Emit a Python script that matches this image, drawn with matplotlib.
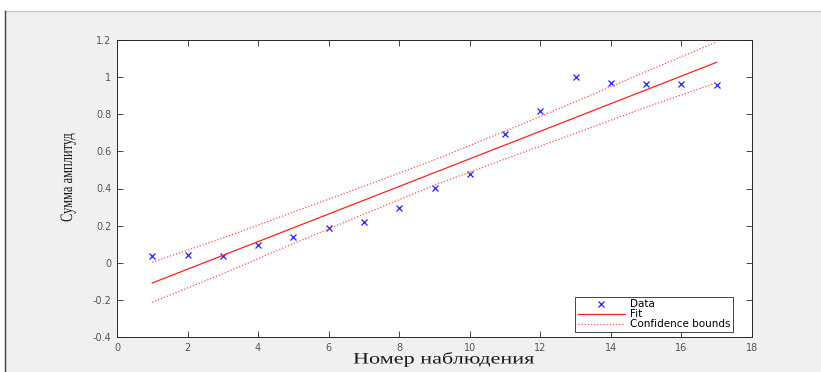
import matplotlib
matplotlib.use("Agg")
import matplotlib.pyplot as plt
from matplotlib.patches import Rectangle
from matplotlib.lines import Line2D
from matplotlib.patheffects import AbstractPathEffect
from matplotlib.transforms import Affine2D

# Data
obs = [1, 2, 3, 4, 5, 6, 7, 8, 9, 10, 11, 12, 13, 14, 15, 16, 17]
amp = [0.036, 0.040, 0.035, 0.095, 0.139, 0.187, 0.219, 0.295, 0.403,
       0.478, 0.694, 0.817, 1.000, 0.970, 0.965, 0.965, 0.955]
fit_x = [1, 17]
fit_y = [-0.109, 1.080]
bound_x = [1, 3, 5, 7, 9, 11, 13, 15, 17]
upper = [0.003, 0.133, 0.273, 0.412, 0.554, 0.709, 0.868, 1.030, 1.190]
lower = [-0.213, -0.059, 0.103, 0.262, 0.418, 0.559, 0.698, 0.838, 0.970]
xticks = [0, 2, 4, 6, 8, 10, 12, 14, 16, 18]
yticks = [-0.4, -0.2, 0, 0.2, 0.4, 0.6, 0.8, 1, 1.2]
yticklabels = ["-0.4", "-0.2", "0", "0.2", "0.4", "0.6", "0.8", "1", "1.2"]


class Stretch(AbstractPathEffect):
    """Scale glyphs along the text direction about the text centre."""
    def __init__(self, sx=1.0):
        super().__init__()
        self.sx = sx

    def draw_path(self, renderer, gc, tpath, affine, rgbFace=None):
        ext = tpath.get_extents()
        cx = (ext.x0 + ext.x1) / 2
        pre = Affine2D().translate(-cx, 0).scale(self.sx, 1.0).translate(cx, 0)
        renderer.draw_path(gc, tpath, pre + affine, rgbFace)


W, H = 821, 372
fig = plt.figure(figsize=(W / 100, H / 100), dpi=100)
fig.patch.set_facecolor("white")
fig.add_artist(Rectangle((5 / W, 0), 1 - 5 / W, 1 - 11 / H, transform=fig.transFigure,
                         facecolor="#f0f0f0", edgecolor="none", zorder=-10))
fig.add_artist(Line2D([5 / W, 1], [1 - 11 / H, 1 - 11 / H], transform=fig.transFigure,
                      color="#c8c8c8", lw=1))
fig.add_artist(Line2D([5 / W, 5 / W], [0, 1 - 11 / H], transform=fig.transFigure,
                      color="#404040", lw=1))

ax = fig.add_axes([117 / W, 1 - 337 / H, (752 - 117) / W, (337 - 40) / H])
ax.set_facecolor("white")

ax.plot(obs, amp, linestyle="none", marker="x", color="#2020ff", markersize=5,
        markeredgewidth=0.9, label="Data")
ax.plot(fit_x, fit_y, color="#ff2020", lw=0.9, label="Fit")
ax.plot(bound_x, upper, color="#ff5050", lw=0.9, linestyle=(0, (1, 1.5)),
        label="Confidence bounds")
ax.plot(bound_x, lower, color="#ff5050", lw=0.9, linestyle=(0, (1, 1.5)))

ax.set_xlim(0, 18)
ax.set_ylim(-0.4, 1.2)
ax.set_xticks(xticks)
ax.set_xticklabels([str(t) for t in xticks])
ax.set_yticks(yticks)
ax.set_yticklabels(yticklabels)
ax.tick_params(direction="in", top=True, right=True, length=4, width=0.6,
               labelsize=7, labelcolor="#555555", color="#262626", pad=4)
for s in ax.spines.values():
    s.set_color("#262626")
    s.set_linewidth(0.7)

xl = ax.set_xlabel("Номер наблюдения", family="Liberation Serif", fontsize=11.5,
                   color="#1a1a1a")
xl.set_path_effects([Stretch(1.39)])
ax.xaxis.set_label_coords((443.5 - 117) / 635, (337 - 351) / 297)

yl = ax.set_ylabel("Сумма амплитуд", family="Liberation Serif", fontsize=12.5,
                   color="#1a1a1a")
yl.set_path_effects([Stretch(0.72)])
ax.yaxis.set_label_coords((76 - 117) / 635, (337 - 177.5) / 297)

leg = ax.legend(loc="lower right", bbox_to_anchor=((733 - 117) / 635, (337 - 332) / 297),
                borderaxespad=0, fontsize=7.5, frameon=True, fancybox=False,
                framealpha=1, edgecolor="#262626", borderpad=0.25, labelspacing=0.0,
                handlelength=4.5, handletextpad=0.5)
leg.get_frame().set_linewidth(0.6)

fig.savefig("out.png", dpi=100)
